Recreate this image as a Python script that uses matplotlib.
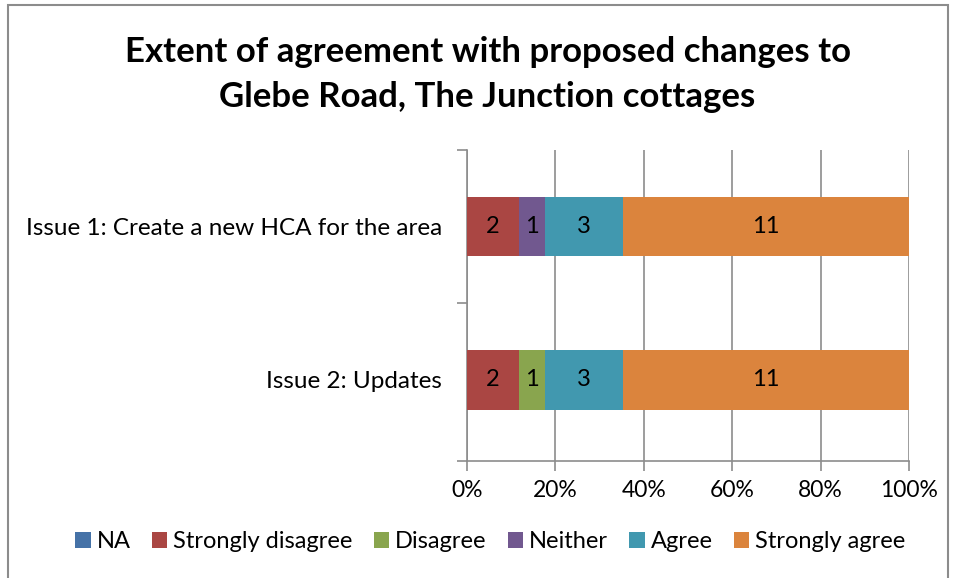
import matplotlib.pyplot as plt
import numpy as np
from matplotlib.patches import Rectangle

plt.rcParams['font.family'] = ['Lato', 'DejaVu Sans']

issues = ['Issue 1: Create a new HCA for the area', 'Issue 2: Updates']
categories = ['NA', 'Strongly disagree', 'Disagree', 'Neither', 'Agree', 'Strongly agree']
counts = {
    'NA': [0, 0],
    'Strongly disagree': [2, 2],
    'Disagree': [0, 1],
    'Neither': [1, 0],
    'Agree': [3, 3],
    'Strongly agree': [11, 11],
}
colors = ['#4572A7', '#AA4643', '#89A54E', '#71588F', '#4198AF', '#DB843D']

fig = plt.figure(figsize=(9.56, 5.78), dpi=100)
ax = fig.add_axes([467 / 956, 1 - 461 / 578, 442 / 956, 311 / 578])

# outer chart border
fig.patches.append(Rectangle((8 / 956, -0.01), 940 / 956, 1 - 5 / 578 + 0.01,
                             transform=fig.transFigure, fill=False,
                             edgecolor='#8c8c8c', linewidth=1.5))

totals = np.sum([counts[c] for c in categories], axis=0)
ypos = np.array([1, 0])
left = np.zeros(len(issues))
for cat, col in zip(categories, colors):
    vals = np.array(counts[cat]) / totals * 100
    ax.barh(ypos, vals, left=left, height=0.39, color=col, label=cat, zorder=3)
    for y, v, l, n in zip(ypos, vals, left, counts[cat]):
        if n > 0:
            ax.text(l + v / 2, y, str(n), ha='center', va='center', fontsize=17, zorder=4)
    left += vals

ax.set_xlim(0, 100)
ax.set_ylim(-0.53, 1.5)
ax.set_xticks(np.arange(0, 101, 20))
ax.set_xticklabels([f'{v}%' for v in range(0, 101, 20)], fontsize=16.5)
ax.xaxis.grid(True, color='#8c8c8c', linewidth=1.2, zorder=0)
ax.tick_params(axis='x', length=7, width=1.2, color='#8c8c8c', pad=7)
ax.set_yticks(ypos)
ax.set_yticklabels(issues, fontsize=17.5)
ax.set_yticks([-0.53, 0.5, 1.5], minor=True)
ax.tick_params(axis='y', which='major', length=0, pad=18)
ax.tick_params(axis='y', which='minor', length=7, width=1.2, color='#8c8c8c')
for s in ['top', 'right']:
    ax.spines[s].set_visible(False)
for s in ['left', 'bottom']:
    ax.spines[s].set_color('#8c8c8c')
    ax.spines[s].set_linewidth(1.2)

fig.text(0.51, 1 - 52 / 578, 'Extent of agreement with proposed changes to',
         ha='center', va='center', fontsize=25, fontweight='bold')
fig.text(0.51, 1 - 97 / 578, 'Glebe Road, The Junction cottages',
         ha='center', va='center', fontsize=25, fontweight='bold')

fig.legend(loc='center', bbox_to_anchor=(0.513, 1 - 542 / 578), ncol=6, frameon=False,
           fontsize=17, handlelength=0.65, handleheight=0.65, handletextpad=0.25,
           columnspacing=0.9)

fig.savefig('out.png', dpi=100)
